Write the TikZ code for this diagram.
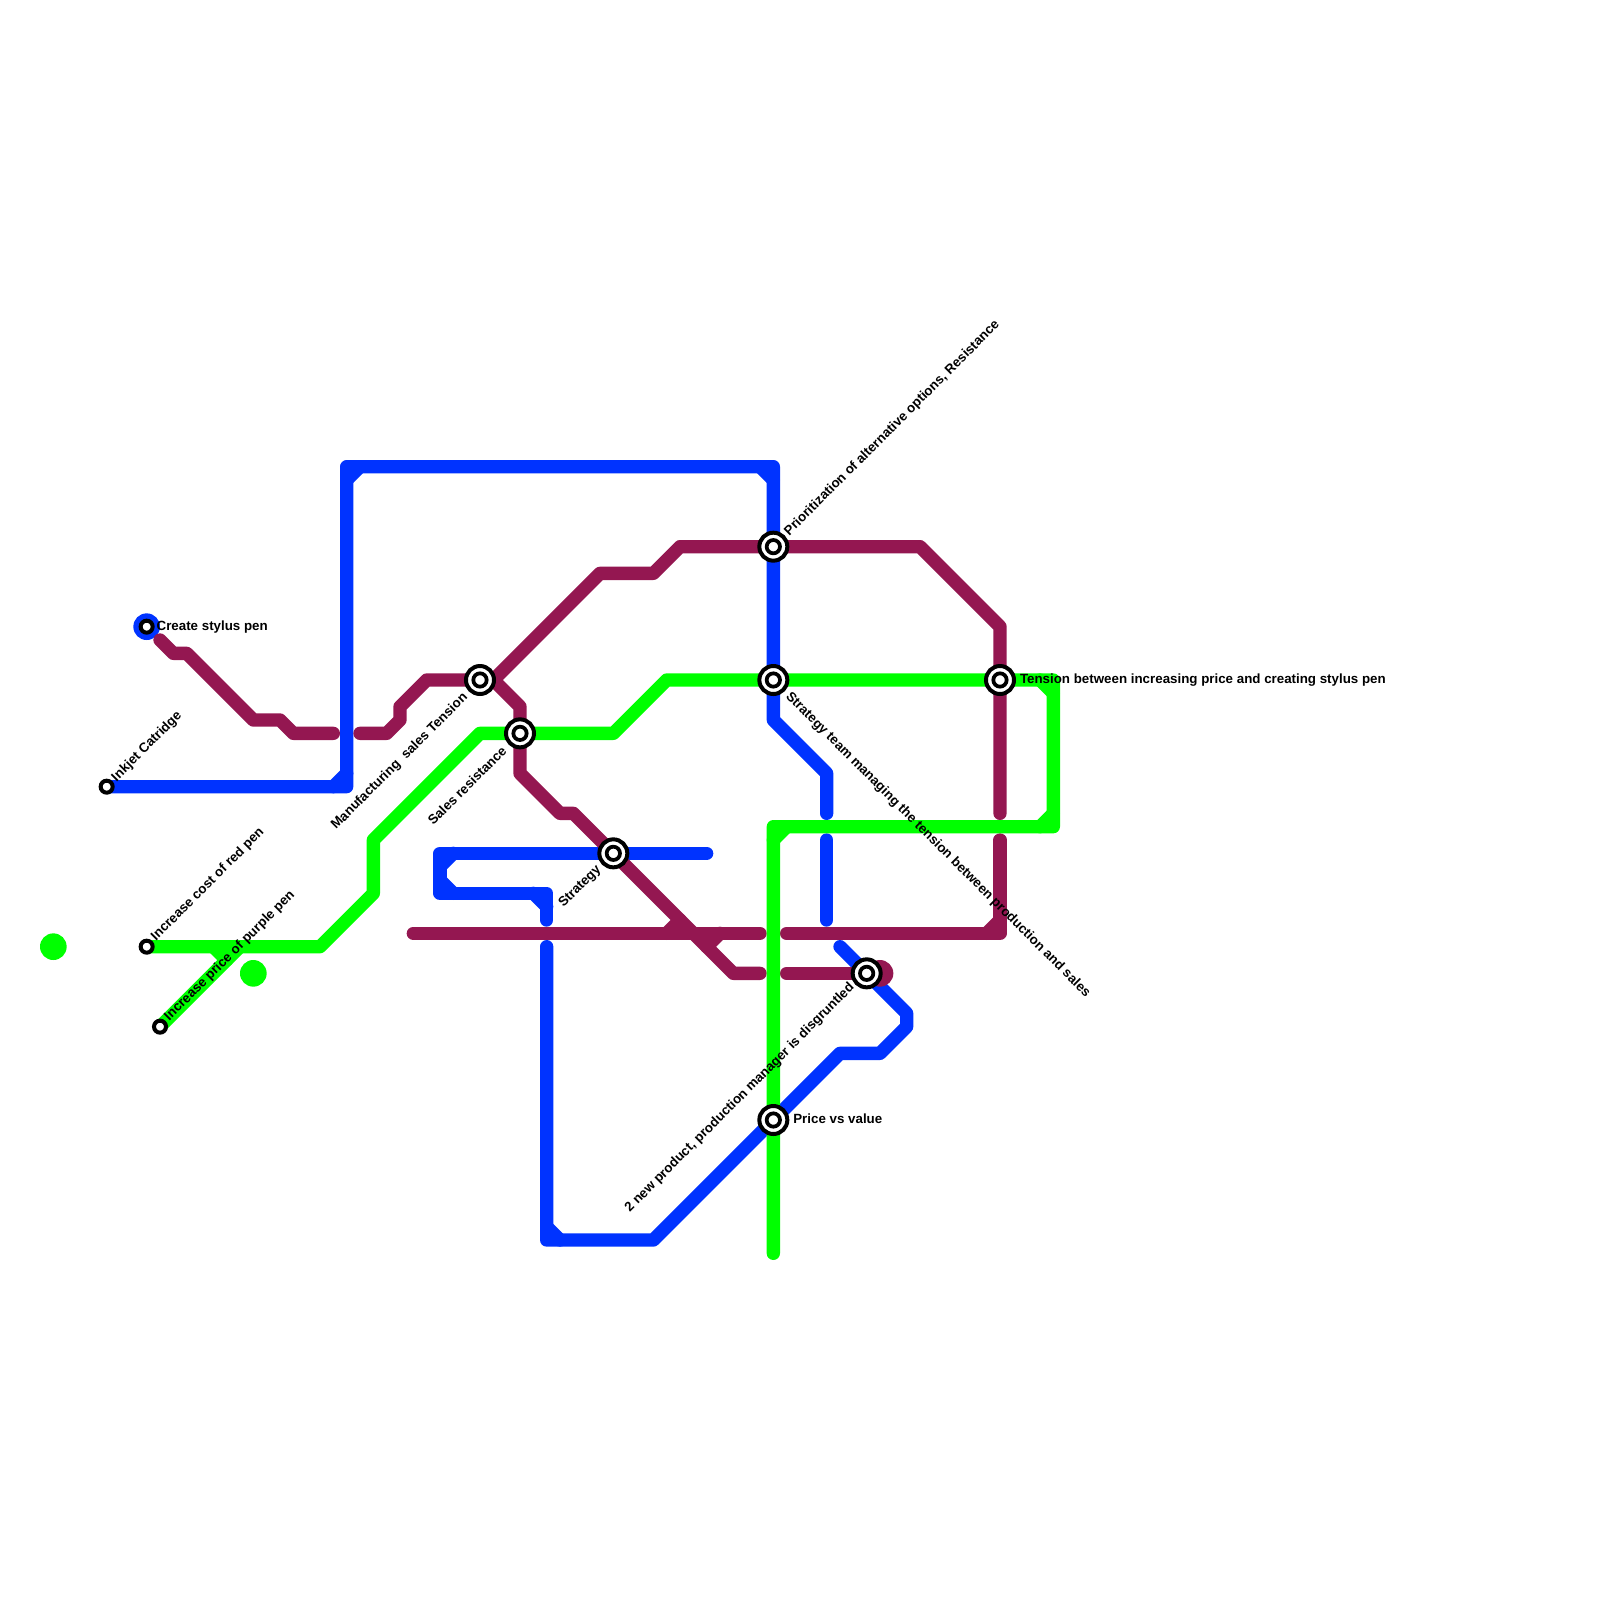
\documentclass[tikz,border=0pt]{standalone}
\usepackage{fontspec}
\setmainfont{Liberation Sans}
\definecolor{lblue}{RGB}{0,51,255}
\definecolor{lgreen}{RGB}{0,255,0}
\definecolor{lpurple}{RGB}{148,23,81}
\tikzset{
  metro/.style={line width=10pt,line cap=round,line join=round},
  blueline/.style={metro,draw=lblue},
  greenline/.style={metro,draw=lgreen},
  purpleline/.style={metro,draw=lpurple},
  bigstation/.style={circle,draw=black,fill=white,line width=3pt,minimum size=21pt,inner sep=0pt,outer sep=0pt,
    path picture={\draw[black,line width=2.8pt] (path picture bounding box.center) circle (5pt);}},
  smallstation/.style={circle,draw=black,fill=white,line width=3pt,minimum size=9pt,inner sep=0pt,outer sep=0pt},
  lbl/.style={inner sep=0pt,outer sep=0pt,font=\fontsize{10}{12}\selectfont\bfseries,text=black},
  blob/.style={circle,minimum size=20pt,inner sep=0pt,outer sep=0pt}
}
\begin{document}
\begin{tikzpicture}[x=10pt,y=-10pt]
\useasboundingbox (0,0) rectangle (120,120);
% blobs
\node[blob,fill=lgreen] (dotA) at (4,71) {};
\node[blob,fill=lgreen] (dotB) at (19,73) {};
\node[blob,fill=lblue] (dotC) at (11,47) {};
% blue
\draw[blueline] (8,59) -- (26,59) -- (26,35) -- (58,35) -- (58,54) -- (62,58) -- (62,61);
\draw[blueline] (25,59) -- (26,58);
\draw[blueline] (26,36) -- (27,35);
\draw[blueline] (57,35) -- (58,36);
\draw[blueline] (62,63) -- (62,69);
\draw[blueline] (63,71) -- (68,76) -- (68,77) -- (66,79) -- (63,79) -- (49,93) -- (41,93) -- (41,71);
\draw[blueline] (41,92) -- (42,93);
\draw[blueline] (53,64) -- (33,64) -- (33,67) -- (41,67) -- (41,69);
\draw[blueline] (34,64) -- (33,65);
\draw[blueline] (33,66) -- (34,67);
\draw[blueline] (40,67) -- (41,68);
% purple
\draw[purpleline] (12,48) -- (13,49) -- (14,49) -- (19,54) -- (21,54) -- (22,55) -- (25,55);
\draw[purpleline] (27,55) -- (29,55) -- (30,54) -- (30,53) -- (32,51) -- (36,51) -- (37,51) -- (45,43) -- (49,43) -- (51,41) -- (69,41) -- (75,47) -- (75,61);
\draw[purpleline] (37,51) -- (39,53) -- (39,58) -- (42,61) -- (43,61) -- (55,73) -- (57,73);
\draw[purpleline] (31,70) -- (57,70);
\draw[purpleline] (50,70) -- (51,69);
\draw[purpleline] (54,70) -- (53,71);
\draw[purpleline] (59,70) -- (75,70) -- (75,63);
\draw[purpleline] (74,70) -- (75,69);
\draw[purpleline] (59,73) -- (66,73);
\node[blob,fill=lpurple] (dotD) at (66,73) {};
% green
\draw[greenline] (11,71) -- (24,71) -- (28,67) -- (28,63) -- (36,55) -- (46,55) -- (50,51) -- (79,51) -- (79,62) -- (58,62) -- (58,94);
\draw[greenline] (78,51) -- (79,52);
\draw[greenline] (79,61) -- (78,62);
\draw[greenline] (59,62) -- (58,63);
\draw[greenline] (12,77) -- (18,71);
\draw[greenline] (16,71) -- (17,72);
% stations
\node[smallstation] (inkjet) at (8,59) {};
\node[smallstation] (stylus) at (11,47) {};
\node[smallstation] (redpen) at (11,71) {};
\node[smallstation] (purplepen) at (12,77) {};
\node[bigstation] (mfg) at (36,51) {};
\node[bigstation] (sales) at (39,55) {};
\node[bigstation] (strategy) at (46,64) {};
\node[bigstation] (prio) at (58,41) {};
\node[bigstation] (team) at (58,51) {};
\node[bigstation] (tension) at (75,51) {};
\node[bigstation] (newprod) at (65,73) {};
\node[bigstation] (pricev) at (58,84) {};
% labels
\node[lbl,rotate=45,anchor=base west] (tInk) at (8.75,58.65) {Inkjet Catridge};
\node[lbl,anchor=base west] (tSty) at (11.75,47.25) {Create stylus pen};
\node[lbl,rotate=45,anchor=base west] (tRed) at (11.7,70.6) {Increase cost of red pen};
\node[lbl,rotate=45,anchor=base west] (tPur) at (12.7,76.6) {Increase price of purple pen};
\node[lbl,rotate=45,anchor=base east] (tMfg) at (35.1,52.35) {Manufacturing\ \ sales Tension};
\node[lbl,rotate=45,anchor=base east] (tSal) at (38.05,56.4) {Sales resistance};
\node[lbl,rotate=45,anchor=base east] (tStr) at (45.1,65.25) {Strategy};
\node[lbl,rotate=45,anchor=base west] (tPri) at (59.2,40.2) {Prioritization of alternative options, Resistance};
\node[lbl,rotate=-45,anchor=base west] (tTea) at (58.9,52.3) {Strategy team managing the tension between production and sales};
\node[lbl,anchor=base west] (tTen) at (76.5,51.25) {Tension between increasing price and creating stylus pen};
\node[lbl,anchor=base west] (tPrv) at (59.5,84.25) {Price vs value};
\node[lbl,rotate=45,anchor=base east] (tNew) at (64.1,74.1) {2 new product, production manager is disgruntled};
\end{tikzpicture}
\end{document}
